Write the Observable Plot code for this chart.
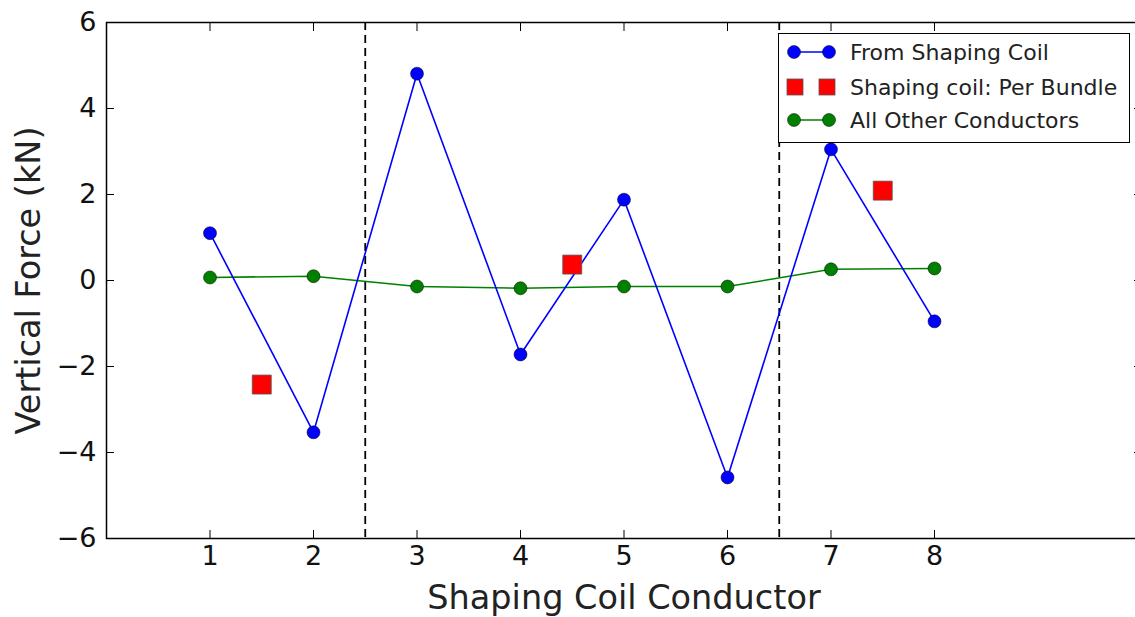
<!DOCTYPE html>
<html>
<head>
<meta charset="utf-8">
<script src="https://cdn.jsdelivr.net/npm/d3@7"></script>
<script src="https://cdn.jsdelivr.net/npm/@observablehq/plot@0.6"></script>
<style>
  html, body { margin: 0; padding: 0; background: #fff; }
  #wrap { position: relative; width: 1135px; height: 617px; overflow: hidden; font-family: "DejaVu Sans", sans-serif; }
  #wrap > svg { max-width: none !important; display: block; }
  #legend { position: absolute; left: 778px; top: 33px; width: 352px; height: 110px; box-sizing: border-box; border: 1.5px solid #000; background: #fff; }
</style>
</head>
<body>
<div id="wrap"></div>
<script>
// ---- data ----
const conductors = [1, 2, 3, 4, 5, 6, 7, 8];
const shapingCoil = [1.10, -3.53, 4.81, -1.72, 1.88, -4.58, 3.05, -0.95];
const otherConductors = [0.07, 0.10, -0.14, -0.18, -0.14, -0.14, 0.26, 0.28];
const bundlePositions = [1.5, 4.5, 7.5];
const perBundle = [-2.42, 0.37, 2.09];
const dividers = [2.5, 6.5];
const xTicks = [1, 2, 3, 4, 5, 6, 7, 8];
const yTicks = [-6, -4, -2, 0, 2, 4, 6];
const seriesNames = ["From Shaping Coil", "Shaping coil: Per Bundle", "All Other Conductors"];
const xLabel = "Shaping Coil Conductor";
const yLabel = "Vertical Force (kN)";

const coilRows = conductors.map((c, i) => ({x: c, y: shapingCoil[i]}));
const otherRows = conductors.map((c, i) => ({x: c, y: otherConductors[i]}));
const bundleRows = bundlePositions.map((c, i) => ({x: c, y: perBundle[i]}));

const blue = "#0000ff", red = "#ff0000", green = "#008000";
const noText = () => "";

const chart = Plot.plot({
  width: 1141,
  height: 617,
  marginLeft: 106,
  marginRight: 0,
  marginTop: 22,
  marginBottom: 79,
  style: {fontFamily: "DejaVu Sans, sans-serif", fontSize: "27px", color: "#000", background: "#fff", overflow: "visible", maxWidth: "none"},
  x: {domain: [0, 10]},
  y: {domain: [-6, 6]},
  marks: [
    Plot.ruleX(dividers, {x: d => d, stroke: "#000", strokeWidth: 1.8, strokeDasharray: "8,5"}),
    Plot.line(otherRows, {x: "x", y: "y", stroke: green, strokeWidth: 1.6}),
    Plot.line(coilRows, {x: "x", y: "y", stroke: blue, strokeWidth: 1.6}),
    Plot.dot(otherRows, {x: "x", y: "y", r: 6.5, fill: green, stroke: "#000", strokeWidth: 0.5}),
    Plot.dot(coilRows, {x: "x", y: "y", r: 6.5, fill: blue, stroke: "#000", strokeWidth: 0.5}),
    Plot.dot(bundleRows, {x: "x", y: "y", r: 10.7, symbol: "square", fill: red, stroke: "#555", strokeWidth: 0.8}),
    Plot.frame({stroke: "#000", strokeWidth: 1.5}),
    // tick labels
    Plot.axisX(xTicks, {anchor: "bottom", tickSize: 0, tickPadding: 7, label: null, fontSize: 27, fill: "#111"}),
    Plot.axisY(yTicks, {anchor: "left", tickSize: 0, tickPadding: 10, label: null, fontSize: 27, fill: "#111"}),
    // inward tick marks (no text)
    Plot.axisX(xTicks, {anchor: "bottom", tickSize: -8, tickFormat: noText, label: null, strokeWidth: 1}),
    Plot.axisX(xTicks, {anchor: "top", tickSize: -8, tickFormat: noText, label: null, strokeWidth: 1}),
    Plot.axisY(yTicks, {anchor: "left", tickSize: -8, tickFormat: noText, label: null, strokeWidth: 1}),
    Plot.axisY(yTicks, {anchor: "right", tickSize: -8, tickFormat: noText, label: null, strokeWidth: 1}),
    // axis titles
    Plot.text([xLabel], {frameAnchor: "bottom", textAnchor: "middle", lineAnchor: "middle", dy: 59.5, fontSize: 33.5, fill: "#222"}),
    Plot.text([yLabel], {frameAnchor: "left", textAnchor: "middle", lineAnchor: "middle", rotate: -90, dx: -77, fontSize: 33.5, fill: "#222"})
  ]
});

const wrap = document.getElementById("wrap");
wrap.appendChild(chart);

// legend
const legend = document.createElement("div");
legend.id = "legend";
const ns = "http://www.w3.org/2000/svg";
const lsvg = document.createElementNS(ns, "svg");
lsvg.setAttribute("width", 350);
lsvg.setAttribute("height", 108);
lsvg.style.display = "block";
const rowY = [18, 53, 86];
const kinds = [{type: "line", color: blue}, {type: "square", color: red}, {type: "line", color: green}];
seriesNames.forEach((name, i) => {
  const cy = rowY[i];
  const k = kinds[i];
  if (k.type === "line") {
    const ln = document.createElementNS(ns, "line");
    ln.setAttribute("x1", 15); ln.setAttribute("x2", 50);
    ln.setAttribute("y1", cy); ln.setAttribute("y2", cy);
    ln.setAttribute("stroke", k.color); ln.setAttribute("stroke-width", 1.6);
    lsvg.appendChild(ln);
    [15, 50].forEach(cx => {
      const c = document.createElementNS(ns, "circle");
      c.setAttribute("cx", cx); c.setAttribute("cy", cy); c.setAttribute("r", 6.5);
      c.setAttribute("fill", k.color); c.setAttribute("stroke", "#000"); c.setAttribute("stroke-width", 0.5);
      lsvg.appendChild(c);
    });
  } else {
    [8, 40].forEach(x0 => {
      const r = document.createElementNS(ns, "rect");
      r.setAttribute("x", x0); r.setAttribute("y", cy - 8);
      r.setAttribute("width", 16); r.setAttribute("height", 16);
      r.setAttribute("fill", k.color); r.setAttribute("stroke", "#555"); r.setAttribute("stroke-width", 0.8);
      lsvg.appendChild(r);
    });
  }
  const t = document.createElementNS(ns, "text");
  t.setAttribute("x", 71); t.setAttribute("y", cy);
  t.setAttribute("dy", "0.36em");
  t.setAttribute("font-family", "DejaVu Sans, sans-serif");
  t.setAttribute("font-size", 22);
  t.setAttribute("fill", "#222");
  t.textContent = name;
  lsvg.appendChild(t);
});
legend.appendChild(lsvg);
wrap.appendChild(legend);
</script>
</body>
</html>
